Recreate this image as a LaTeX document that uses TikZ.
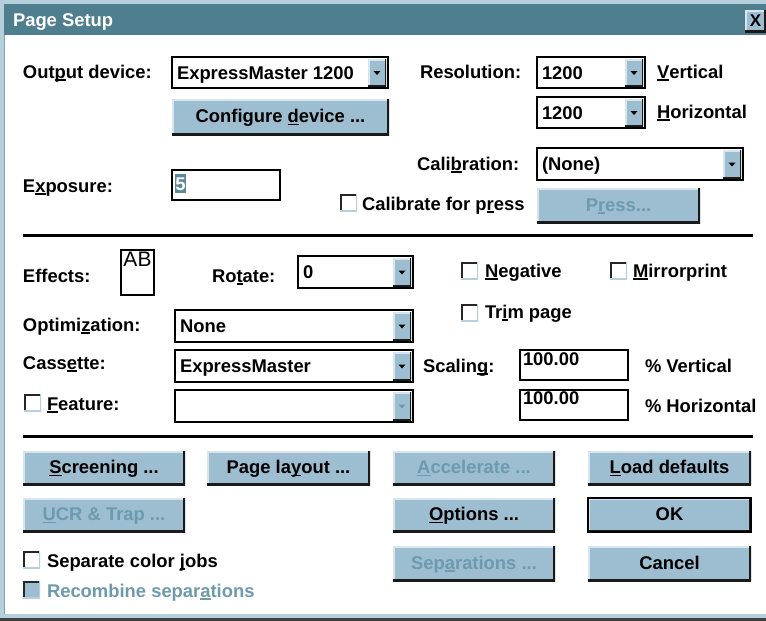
\documentclass[tikz,border=0pt]{standalone}
\usepackage{fontspec}
\setmainfont{Liberation Sans}
\definecolor{titlebar}{HTML}{4F7F8F}
\definecolor{btnface}{HTML}{9DBDD0}
\definecolor{btnhi}{HTML}{D6E5EE}
\definecolor{btnsh}{HTML}{1A1A1A}
\definecolor{frameline}{HTML}{B5CFDC}
\definecolor{framedark}{HTML}{7FA2B3}
\definecolor{distext}{HTML}{6E9AAE}
\definecolor{selbg}{HTML}{5A8A9C}
\newcommand\mn[1]{\setbox0=\hbox{#1}\rlap{\rule[-2.8pt]{\wd0}{1.4pt}}\box0}
\newcommand\uibox[7]{\node[#1,anchor=north west,minimum width={(#5-#3)*1pt},minimum height={(#6-#4)*1pt}] (#2) at (#3,#4) {#7};}
\newcommand\combo[7]{%
  \uibox{combo}{#1}{#2}{#3}{#4}{#5}{}
  \node[ddbtn=#7,anchor=north east,minimum width=18pt,minimum height={(#5-#3-4)*1pt}] (#1-dd) at ([xshift=-2pt,yshift=-2pt]#1.north east) {};
  \node[lbl] (#1-txt) at ([xshift=5pt]#1.west) {#6};}
\newcommand\chk[4]{\node[chkbox,#4,anchor=north west,minimum size=17pt] (#1) at (#2,#3) {};}
\begin{document}
\begin{tikzpicture}[x=1pt,y=-1pt,
  every node/.style={inner sep=0pt,outer sep=0pt,font=\fontsize{18.4}{20}\selectfont\bfseries,text height=13pt,text depth=0pt},
  lbl/.style={anchor=west},
  dis/.style={text=distext},
  btn/.style={fill=btnface,text depth=2pt,path picture={
     \draw[btnhi,line width=3pt] (path picture bounding box.south west) -- (path picture bounding box.north west) -- (path picture bounding box.north east);
     \draw[btnsh,line width=4pt] (path picture bounding box.south west) -- (path picture bounding box.south east) -- (path picture bounding box.north east);}},
  okbtn/.style={btn,draw=black,line width=1.5pt},
  ddbtn/.style={fill=btnface,path picture={
     \draw[btnhi,line width=3pt] (path picture bounding box.south west) -- (path picture bounding box.north west) -- (path picture bounding box.north east);
     \draw[btnsh,line width=3pt] (path picture bounding box.south west) -- (path picture bounding box.south east) -- (path picture bounding box.north east);
     \fill[#1] ([xshift=-3.5pt,yshift=1.5pt]path picture bounding box.center) -- ++(7,0) -- ++(-3.5,4) -- cycle;}},
  ddbtn/.default=black,
  combo/.style={fill=white,draw=black,line width=2pt},
  edit/.style={fill=white,draw=black,line width=1.5pt},
  sel/.style={fill=selbg,text=white},
  abbox/.style={fill=white,draw=black,line width=1.5pt},
  chkbox/.style={fill=white,path picture={
     \draw[black!85,line width=3pt] (path picture bounding box.south west) -- (path picture bounding box.north west) -- (path picture bounding box.north east);
     \draw[frameline,line width=3pt] (path picture bounding box.south west) -- (path picture bounding box.south east) -- (path picture bounding box.north east);}},
  recfill/.style={fill=btnface}
]
\useasboundingbox (0,0) rectangle (766,621);
% window frame
\fill[white] (0,0) rectangle (766,621);
\fill[frameline] (0,0) rectangle (766,4);
\fill[titlebar] (4,4) rectangle (766,35);
\fill[frameline] (0,0) rectangle (4,621);
\draw[framedark,line width=1pt] (4.5,35) -- (4.5,615);
\fill[frameline] (0,614) rectangle (766,618);
\fill[black!75] (0,618) rectangle (766,621);
% title bar
\node[lbl,text=white] (title) at (13,20.5) {Page Setup};
\uibox{btn}{close}{745}{10}{766}{32}{}
\node[font=\fontsize{17}{17}\selectfont\bfseries,text height=12pt] (closex) at ([yshift=1pt]close.center) {X};

% --- section 1
\node[lbl] (outdev) at (23,71.5) {Out\mn{p}ut device:};
\combo{dev}{172}{57}{388}{88}{ExpressMaster 1200}{black}
\uibox{btn}{config}{172}{99}{389}{135}{Configure \mn{d}evice ...}
\node[lbl] (resol) at (420,71.5) {Resolution:};
\combo{resv}{537}{57}{645}{88}{1200}{black}
\node[lbl] (vert) at (657,71.5) {\mn{V}ertical};
\combo{resh}{537}{97}{645}{128}{1200}{black}
\node[lbl] (horiz) at (657,111.5) {\mn{H}orizontal};
\node[lbl] (calibl) at (417,163.5) {Cali\mn{b}ration:};
\combo{calib}{537}{148}{743}{180}{(None)}{black}
\node[lbl] (expol) at (23,185.5) {E\mn{x}posure:};
\uibox{edit}{expo}{172}{170}{280}{200}{}
\uibox{sel}{exposel}{175}{174}{186}{193}{5}
\chk{calchk}{340}{194}{}
\node[lbl] (calpress) at (362,203.5) {Calibrate for p\mn{r}ess};
\uibox{btn,dis}{press}{537}{188}{700}{223}{P\mn{r}ess...}

\draw[line width=3pt] (23,235) -- (753,235);

% --- section 2
\node[lbl] (effects) at (23,275.5) {Effects:};
\uibox{abbox}{ab}{121}{250}{154}{295}{}
\node[font=\fontsize{21}{21}\selectfont,text height=15pt] (abtxt) at (137.5,259) {AB};
\node[lbl] (rotate) at (212,275.5) {Ro\mn{t}ate:};
\combo{rot}{298}{256}{413}{288}{0}{black}
\chk{negchk}{461}{262}{}
\node[lbl] (negative) at (485,270.5) {\mn{N}egative};
\chk{mirchk}{610}{262}{}
\node[lbl] (mirror) at (633,270.5) {\mn{M}irrorprint};
\chk{trimchk}{461}{304}{}
\node[lbl] (trim) at (485,311.5) {Tr\mn{i}m page};
\node[lbl] (optim) at (23,324.5) {Optimi\mn{z}ation:};
\combo{opt}{175}{310}{413}{342}{None}{black}
\node[lbl] (cassl) at (23,362.5) {Cass\mn{e}tte:};
\combo{cass}{175}{350}{413}{382}{ExpressMaster}{black}
\node[lbl] (scalel) at (423,365.5) {Scalin\mn{g}:};
\uibox{edit}{scv}{520}{350}{628}{380}{}
\node[lbl] (scvtxt) at ([xshift=3pt,yshift=6pt]scv.west) {100.00};
\node[lbl] (pvert) at (645,365.5) {\% Vertical};
\chk{featchk}{24}{394}{}
\node[lbl] (featl) at (47,403.5) {\mn{F}eature:};
\combo{feat}{175}{390}{413}{422}{}{distext}
\uibox{edit}{sch}{520}{390}{628}{420}{}
\node[lbl] (schtxt) at ([xshift=3pt,yshift=7pt]sch.west) {100.00};
\node[lbl] (phoriz) at (645,405.5) {\% Horizontal};

\draw[line width=3pt] (23,436) -- (753,436);

% --- section 3
\uibox{btn}{screen}{23}{451}{185}{485}{\mn{S}creening ...}
\uibox{btn}{layout}{207}{451}{370}{485}{Page la\mn{y}out ...}
\uibox{btn,dis}{accel}{393}{451}{555}{485}{\mn{A}ccelerate ...}
\uibox{btn}{loaddef}{588}{451}{751}{485}{\mn{L}oad defaults}
\uibox{btn,dis}{ucr}{23}{498}{185}{532}{\mn{U}CR \& Trap ...}
\uibox{btn}{opts}{393}{498}{555}{532}{\mn{O}ptions ...}
\uibox{okbtn}{ok}{588}{498}{751}{532}{OK}
\uibox{btn,dis}{seps}{393}{546}{555}{581}{Sep\mn{a}rations ...}
\uibox{btn}{cancel}{588}{546}{751}{581}{Cancel}
\chk{sepchk}{23}{551}{}
\node[lbl] (sepl) at (47,560.5) {Separate color \mn{j}obs};
\chk{recchk}{23}{581}{recfill}
\node[lbl,dis] (recl) at (47,590.5) {Recombine separ\mn{a}tions};
\end{tikzpicture}
\end{document}
